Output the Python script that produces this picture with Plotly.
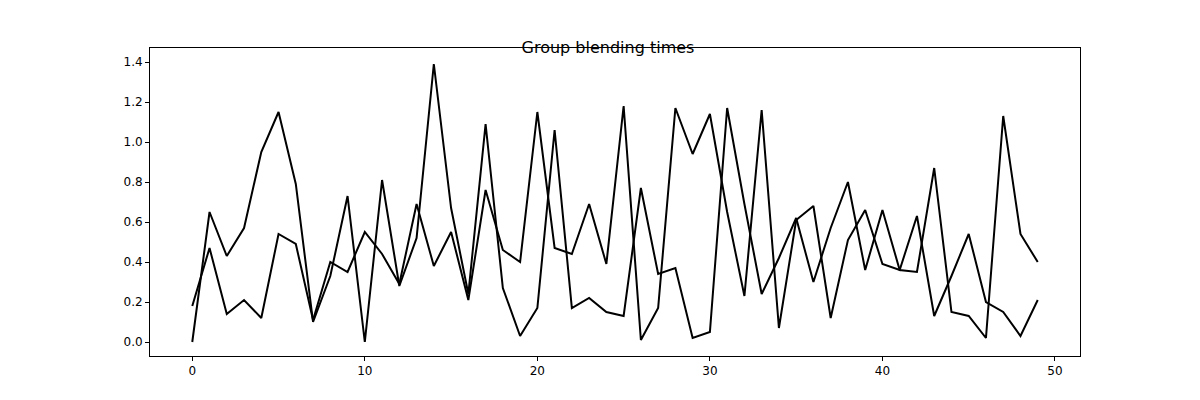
import plotly.graph_objects as go

x = list(range(50))
series_a = [0.00, 0.65, 0.43, 0.57, 0.95, 1.15, 0.79, 0.10, 0.33, 0.73,
            0.00, 0.81, 0.28, 0.52, 1.39, 0.67, 0.24, 1.09, 0.27, 0.03,
            0.17, 1.06, 0.17, 0.22, 0.15, 0.13, 0.77, 0.34, 0.37, 0.02,
            0.05, 1.17, 0.69, 0.24, 0.42, 0.62, 0.30, 0.57, 0.80, 0.36,
            0.66, 0.36, 0.35, 0.87, 0.15, 0.13, 0.02, 1.13, 0.54, 0.40]
series_b = [0.18, 0.47, 0.14, 0.21, 0.12, 0.54, 0.49, 0.11, 0.40, 0.35,
            0.55, 0.44, 0.29, 0.69, 0.38, 0.55, 0.21, 0.76, 0.46, 0.40,
            1.15, 0.47, 0.44, 0.69, 0.39, 1.18, 0.01, 0.17, 1.17, 0.94,
            1.14, 0.65, 0.23, 1.16, 0.07, 0.61, 0.68, 0.12, 0.51, 0.66,
            0.39, 0.36, 0.63, 0.13, 0.33, 0.54, 0.20, 0.15, 0.03, 0.21]

fig = go.Figure()
for s in (series_a, series_b):
    fig.add_trace(go.Scatter(x=x, y=s, mode="lines", line=dict(color="black", width=2), showlegend=False))

ax = dict(showgrid=False, zeroline=False, showline=True, mirror=True, linecolor="black",
          ticks="outside", tickcolor="black", ticklen=4, tickfont=dict(size=12, color="black"))
fig.update_layout(
    width=1200, height=400, plot_bgcolor="white", paper_bgcolor="white",
    font=dict(family="DejaVu Sans", color="black"),
    title=dict(text="Group blending times", x=0.5, y=0.915, xanchor="center", font=dict(size=16)),
    margin=dict(l=142, r=128, t=40, b=52),
    xaxis=dict(range=[-2.45, 51.45], tickvals=[0, 10, 20, 30, 40, 50], **ax),
    yaxis=dict(range=[-0.07, 1.47], tickvals=[0, 0.2, 0.4, 0.6, 0.8, 1.0, 1.2, 1.4], tickformat=".1f", **ax),
)
fig.write_html("out.html")
